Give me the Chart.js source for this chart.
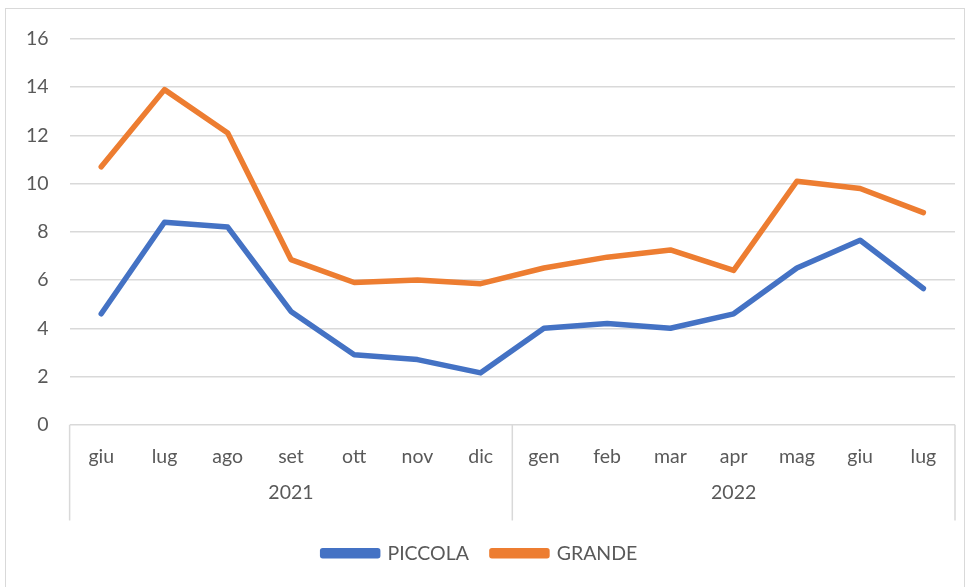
<!DOCTYPE html>
<html>
<head>
<meta charset="utf-8">
<script src="https://cdn.jsdelivr.net/npm/chart.js@4/dist/chart.umd.min.js"></script>
<style>
  html, body { margin: 0; padding: 0; background: #fff; }
  #wrap { position: relative; width: 974px; height: 587px; overflow: hidden; }
  #frame { position: absolute; left: 5px; top: 8px; width: 960px; height: 620px; border: 1.5px solid #d9d9d9; box-sizing: border-box; }
  #myChart { position: absolute; left: 0; top: 0; }
</style>
</head>
<body>
<div id="wrap">
  <div id="frame"></div>
  <canvas id="myChart" width="974" height="587"></canvas>
</div>
<script>
var months = ['giu','lug','ago','set','ott','nov','dic','gen','feb','mar','apr','mag','giu','lug'];
var years = ['2021', '2022'];
// values
var piccola = [4.6, 8.4, 8.2, 4.7, 2.9, 2.7, 2.15, 4.0, 4.2, 4.0, 4.6, 6.5, 7.65, 5.65];
var grande = [10.7, 13.9, 12.1, 6.85, 5.9, 6.0, 5.85, 6.5, 6.95, 7.25, 6.4, 10.1, 9.8, 8.8];

var grey = '#595959';
var gridGrey = '#d9d9d9';
var font = { family: 'Lato, "Open Sans", sans-serif', size: 19.5 };

// vertical separators of the two-level category axis
var separators = {
  id: 'separators',
  afterDraw: function(chart) {
    var x = chart.scales.x;
    var x2 = chart.scales.x2;
    var c = chart.ctx;
    var half = (x.getPixelForTick(1) - x.getPixelForTick(0)) / 2;
    var xs = [x.left, x.getPixelForTick(6) + half, x.right];
    c.save();
    c.strokeStyle = gridGrey;
    c.lineWidth = 1.5;
    xs.forEach(function(px) {
      c.beginPath();
      c.moveTo(px, x.top);
      c.lineTo(px, x2.bottom);
      c.stroke();
    });
    c.restore();
  }
};

window.onload = function() {
  var ctx = document.getElementById('myChart');
  new Chart(ctx, {
    type: 'line',
    data: {
      labels: months,
      datasets: [{
        label: 'PICCOLA',
        data: piccola,
        borderColor: '#4472C4',
        backgroundColor: '#4472C4',
        borderWidth: 5.5,
        pointRadius: 0,
        tension: 0,
        borderJoinStyle: 'round',
        borderCapStyle: 'round',
        xAxisID: 'x'
      }, {
        label: 'GRANDE',
        data: grande,
        borderColor: '#ED7D31',
        backgroundColor: '#ED7D31',
        borderWidth: 5.5,
        pointRadius: 0,
        tension: 0,
        borderJoinStyle: 'round',
        borderCapStyle: 'round',
        xAxisID: 'x'
      }]
    },
    options: {
      responsive: false,
      animation: false,
      layout: { padding: { left: 5, right: 19, top: 39, bottom: 14 } },
      plugins: {
        legend: {
          position: 'bottom',
          labels: {
            font: font,
            color: grey,
            boxWidth: 55,
            boxHeight: 5,
            padding: 23
          }
        },
        tooltip: { enabled: false }
      },
      scales: {
        y: {
          min: 0,
          max: 16,
          ticks: { stepSize: 2, font: font, color: grey, padding: 21 },
          grid: { color: gridGrey, lineWidth: 1.5, drawTicks: false },
          border: { display: false }
        },
        x: {
          offset: true,
          ticks: { font: font, color: grey, padding: 20, autoSkip: false, maxRotation: 0 },
          grid: { display: false, drawTicks: false },
          border: { display: false },
          afterFit: function(scale) { scale.height -= 20; }
        },
        x2: {
          type: 'category',
          position: 'bottom',
          labels: years,
          offset: true,
          ticks: { font: font, color: grey, padding: 13 },
          grid: { display: false, drawTicks: false },
          border: { display: false },
          afterFit: function(scale) { scale.height += 3; }
        }
      }
    },
    plugins: [separators]
  });
};
</script>
</body>
</html>
